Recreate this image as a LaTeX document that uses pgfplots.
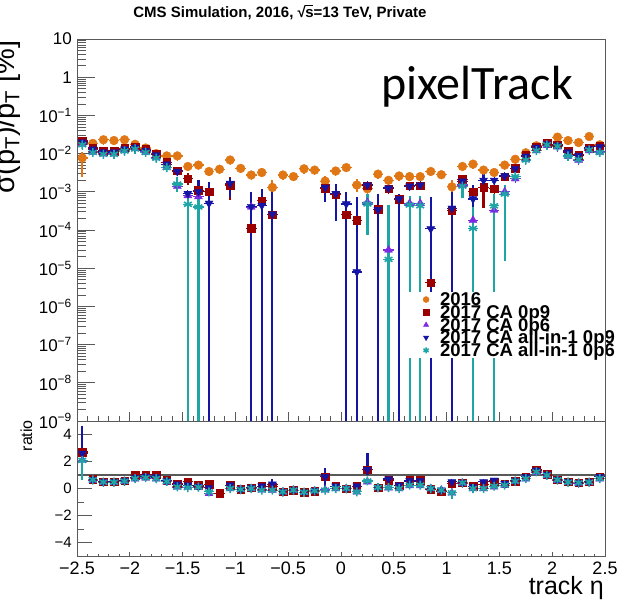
\documentclass[border=0pt]{standalone}
\usepackage{pgfplots}
\pgfplotsset{compat=1.18}
\usepackage{pgfplotstable}
\usepackage{fontspec}
\setmainfont{Liberation Sans}
\newfontfamily\carlito{Carlito}
\definecolor{c16}{RGB}{224,118,20}
\definecolor{c09}{RGB}{155,0,0}
\definecolor{c06}{RGB}{125,40,225}
\definecolor{a09}{RGB}{20,20,165}
\definecolor{a06}{RGB}{30,165,165}

\pgfplotstableread{
x A B C D E
-2.45 7.7e-3 2.2e-2 1.8e-2 2.0e-2 1.7e-2
-2.35 1.85e-2 1.4e-2 1.1e-2 1.3e-2 1.07e-2
-2.25 2.3e-2 1.17e-2 9.8e-3 1.1e-2 9.6e-3
-2.15 2.2e-2 1.17e-2 9.8e-3 1.1e-2 9.6e-3
-2.05 2.3e-2 1.37e-2 1.2e-2 1.3e-2 1.17e-2
-1.95 1.75e-2 1.5e-2 1.35e-2 1.45e-2 1.32e-2
-1.85 1.4e-2 1.3e-2 1.1e-2 1.2e-2 1.07e-2
-1.75 1.0e-2 1.0e-2 7.8e-3 9.3e-3 7.6e-3
-1.65 8.7e-3 5.9e-3 4.4e-3 5.3e-3 4.3e-3
-1.55 8.7e-3 3.6e-3 1.4e-3 3.4e-3 1.6e-3
-1.45 4.6e-3 2.2e-3 8e-4 9e-4 4.7e-4
-1.35 5.0e-3 1.1e-3 7.5e-4 1.0e-3 4.0e-4
-1.25 3.4e-3 1.0e-3 nan 5e-4 nan
-1.15 3.9e-3 nan nan nan nan
-1.05 6.8e-3 1.5e-3 nan 1.66e-3 nan
-0.95 4.1e-3 nan nan nan nan
-0.85 2.75e-3 1.1e-4 4e-4 4.1e-4 nan
-0.75 3.2e-3 5.8e-4 nan 4.4e-4 nan
-0.65 1.3e-3 2.5e-4 nan 2.6e-4 nan
-0.55 2.75e-3 nan nan nan nan
-0.45 2.5e-3 nan nan nan nan
-0.35 4.0e-3 nan nan nan nan
-0.25 3.7e-3 nan nan nan nan
-0.15 1.9e-3 1.25e-3 nan 1.3e-3 nan
-0.05 3.5e-3 8.3e-4 nan 9e-4 nan
0.05 4.3e-3 2.5e-4 nan 4.8e-4 nan
0.15 1.5e-3 1.8e-4 nan 8e-6 nan
0.25 1.2e-3 1.45e-3 5.3e-4 1.5e-3 4.8e-4
0.35 2.9e-3 3.5e-4 nan 3.4e-4 nan
0.45 2.0e-3 1.2e-3 3e-5 1.25e-3 1.7e-5
0.55 2.6e-3 6.5e-4 nan 6.5e-4 nan
0.65 2.5e-3 1.45e-3 5e-4 1.4e-3 4.5e-4
0.75 2.5e-3 1.45e-3 5e-4 1.5e-3 4.3e-4
0.85 3.4e-3 4.2e-6 nan 1.07e-4 nan
0.95 2.8e-3 nan nan nan nan
1.05 1.35e-3 3.3e-4 nan 3.7e-4 nan
1.15 4.6e-3 2.1e-3 1.5e-3 1.9e-3 1.4e-3
1.25 5.3e-3 1.0e-3 1.8e-4 6.5e-4 1.1e-4
1.35 3.7e-3 1.3e-3 nan 2.0e-3 nan
1.45 3.2e-3 1.2e-3 3.3e-4 2.0e-3 4.3e-4
1.55 5.0e-3 2.5e-3 1.0e-3 2.6e-3 8.7e-4
1.65 7.1e-3 4.1e-3 2.2e-3 4.0e-3 2.5e-3
1.75 1.05e-2 9e-3 7e-3 8.5e-3 6.8e-3
1.85 1.6e-2 1.5e-2 1.2e-2 1.45e-2 1.2e-2
1.95 1.85e-2 1.85e-2 1.65e-2 1.8e-2 1.7e-2
2.05 2.7e-2 1.7e-2 1.5e-2 1.65e-2 1.55e-2
2.15 2.2e-2 1.2e-2 8.5e-3 1.1e-2 8.7e-3
2.25 1.95e-2 9.2e-3 6.7e-3 8.8e-3 7e-3
2.35 2.8e-2 1.4e-2 1.2e-2 1.35e-2 1.25e-2
2.45 1.7e-2 1.6e-2 1.1e-2 1.5e-2 1.07e-2
}\topdata

\pgfplotstableread{
x B C D E
-2.45 2.7 2.1 2.6 2.08
-2.35 0.68 0.62 0.66 0.64
-2.25 0.5 0.45 0.49 0.47
-2.15 0.5 0.45 0.49 0.47
-2.05 0.58 0.52 0.56 0.54
-1.95 0.98 0.72 0.8 0.74
-1.85 1.03 0.78 0.9 0.8
-1.75 1.03 0.72 0.85 0.74
-1.65 0.62 0.5 0.56 0.52
-1.55 0.37 0.1 0.32 0.12
-1.45 0.49 0.1 0.25 0.07
-1.35 0.25 0.1 0.15 0.1
-1.25 0.32 -0.37 0.07 -0.25
-1.15 -0.37 nan nan nan
-1.05 0.25 0.0 0.25 0.0
-0.95 -0.07 -0.07 -0.07 -0.07
-0.85 0.07 0.0 0.07 0.0
-0.75 0.17 -0.1 0.17 -0.12
-0.65 0.12 -0.12 0.32 -0.12
-0.55 -0.25 -0.25 -0.25 -0.25
-0.45 -0.12 -0.12 -0.12 -0.12
-0.35 -0.28 -0.28 -0.28 -0.28
-0.25 -0.18 -0.18 -0.18 -0.18
-0.15 0.86 -0.1 0.86 -0.12
-0.05 0.17 0.0 0.17 0.0
0.05 0.0 0.0 0.0 0.0
0.15 0.17 -0.25 0.17 -0.25
0.25 1.4 0.5 1.4 0.56
0.35 0.07 0.07 0.07 0.07
0.45 0.62 0.05 0.7 0.07
0.55 0.2 0.0 0.25 0.0
0.65 0.61 0.22 0.56 0.25
0.75 0.61 0.22 0.56 0.25
0.85 -0.07 0.0 0.0 0.0
0.95 -0.25 -0.12 -0.12 -0.12
1.05 0.37 -0.32 0.49 -0.32
1.15 0.42 0.4 0.42 0.42
1.25 0.17 0.0 0.12 0.0
1.35 0.32 0.0 0.49 0.0
1.45 0.49 0.12 0.61 0.17
1.55 0.37 0.25 0.37 0.25
1.65 0.56 0.52 0.56 0.54
1.75 0.86 0.72 0.86 0.74
1.85 1.4 1.2 1.35 1.23
1.95 1.05 0.95 1.05 0.98
2.05 0.66 0.62 0.66 0.64
2.15 0.49 0.45 0.49 0.47
2.25 0.42 0.4 0.42 0.42
2.35 0.49 0.45 0.49 0.47
2.45 0.86 0.72 0.86 0.74
}\ratiodata

\pgfplotsset{
  cmsframe/.style={scale only axis, xmin=-2.5, xmax=2.5,
    axis line style={black!65, line width=0.9pt},
    tick style={black!65, line width=0.7pt}, tick align=inside},
  topmk/.style={only marks, color=#1, mark options={fill=#1, draw=#1},
    error bars/x dir=both, error bars/x fixed=0.05,
    error bars/y dir=both, error bars/y fixed relative=0.25,
    error bars/error mark=none, error bars/error bar style={line width=1.2pt}},
  ratmk/.style={only marks, color=#1, mark options={fill=#1, draw=#1},
    error bars/x dir=both, error bars/x fixed=0.05,
    error bars/y dir=both, error bars/y fixed=0.18,
    error bars/error mark=none, error bars/error bar style={line width=1.2pt}},
  seg/.style={forget plot, color=#1, line width=2.2pt, unbounded coords=jump, mark=none},
  mA/.style={mark=*, mark size=4.4pt},
  mB/.style={mark=square*, mark size=3.8pt},
  mC/.style={mark=triangle*, mark size=4.6pt},
  mD/.style={mark=triangle*, mark size=4.6pt, every mark/.append style={rotate=180}},
  mE/.style={mark=asterisk, mark size=4.5pt, every mark/.append style={line width=1.6pt}},
}

\begin{document}
\begin{tikzpicture}[x=1pt,y=1pt]
\useasboundingbox (0,0) rectangle (621,602);

% ---------- top panel ----------
\begin{axis}[cmsframe, at={(77pt,181pt)}, anchor=south west, width=528pt, height=382pt,
  ymode=log, ymin=1e-9, ymax=10,
  ytick={1e-9,1e-8,1e-7,1e-6,1e-5,1e-4,1e-3,1e-2,1e-1,1,10},
  yticklabels={10\textsuperscript{−9},10\textsuperscript{−8},10\textsuperscript{−7},10\textsuperscript{−6},10\textsuperscript{−5},10\textsuperscript{−4},10\textsuperscript{−3},10\textsuperscript{−2},10\textsuperscript{−1},1,10},
  minor ytick={2e-9,3e-9,4e-9,5e-9,6e-9,7e-9,8e-9,9e-9,
    2e-8,3e-8,4e-8,5e-8,6e-8,7e-8,8e-8,9e-8,
    2e-7,3e-7,4e-7,5e-7,6e-7,7e-7,8e-7,9e-7,
    2e-6,3e-6,4e-6,5e-6,6e-6,7e-6,8e-6,9e-6,
    2e-5,3e-5,4e-5,5e-5,6e-5,7e-5,8e-5,9e-5,
    2e-4,3e-4,4e-4,5e-4,6e-4,7e-4,8e-4,9e-4,
    2e-3,3e-3,4e-3,5e-3,6e-3,7e-3,8e-3,9e-3,
    2e-2,3e-2,4e-2,5e-2,6e-2,7e-2,8e-2,9e-2,
    0.2,0.3,0.4,0.5,0.6,0.7,0.8,0.9,2,3,4,5,6,7,8,9},
  ytick pos=left, xtick=\empty,
  major tick length=18pt, minor tick length=9pt,
  yticklabel style={font=\fontsize{17}{17}\selectfont, inner xsep=0pt, xshift=-5pt},
  legend style={at={(0.621,0.3377)}, anchor=north west, fill=white, draw=none,
    inner xsep=18pt, inner ysep=1pt, row sep=0pt, column sep=11pt,
    font=\fontsize{18.5}{18.5}\selectfont\bfseries,
    nodes={inner sep=0pt, text height=12.7pt, text depth=0pt}},
  legend cell align=left,
  legend image post style={mark size=3pt},
]
\addplot[seg=c16] coordinates {(-2.45,2.5e-3)(-2.45,1.1e-2)(-2.45,nan)
  (-0.65,8.5e-4)(-0.65,2e-3)(-0.65,nan)(-0.15,1.3e-3)(-0.15,2.6e-3)(-0.15,nan)
  (0.15,1e-3)(0.15,2.1e-3)(0.15,nan)(1.05,9e-4)(1.05,2e-3)};
\addplot[topmk=c16, mA] table[x=x, y=A] {\topdata};
\addlegendentry{2016}
\addplot[seg=c09] coordinates {(-2.45,1.7e-2)(-2.45,2.8e-2)(-2.45,nan)
  (-1.45,1.5e-3)(-1.45,3.2e-3)(-1.45,nan)(-1.05,6e-4)(-1.05,2.5e-3)(-1.05,nan)
  (-0.85,7e-5)(-0.85,1.6e-4)(-0.85,nan)(-0.65,1.5e-4)(-0.65,4e-4)(-0.65,nan)
  (0.85,2.5e-6)(0.85,7e-6)(0.85,nan)(1.35,3.7e-4)(1.35,2e-3)};
\addplot[topmk=c09, mB] table[x=x, y=B] {\topdata};
\addlegendentry{2017 CA 0p9}
\addplot[topmk=c06, mC] table[x=x, y=C] {\topdata};
\addlegendentry{2017 CA 0p6}
\addplot[seg=a09] coordinates {(-1.35,6e-4)(-1.35,2e-3)(-1.35,nan)
  (-1.25,1e-12)(-1.25,1.8e-3)(-1.25,nan)(-1.05,7.4e-4)(-1.05,2.3e-3)(-1.05,nan)
  (-0.85,1e-12)(-0.85,1e-3)(-0.85,nan)(-0.75,1e-12)(-0.75,1.2e-3)(-0.75,nan)
  (-0.65,1e-12)(-0.65,1.7e-3)(-0.65,nan)(-0.15,5.5e-4)(-0.15,2e-3)(-0.15,nan)
  (-0.05,1.7e-4)(-0.05,1.6e-3)(-0.05,nan)(0.05,1e-12)(0.05,1e-3)(0.05,nan)
  (0.15,1e-12)(0.15,7.4e-4)(0.15,nan)(0.35,1e-12)(0.35,9e-4)(0.35,nan)
  (0.55,1e-12)(0.55,9e-4)(0.55,nan)(0.85,1e-12)(0.85,7.4e-4)(0.85,nan)
  (1.05,1e-12)(1.05,1e-3)(1.05,nan)(1.25,3e-4)(1.25,1.5e-3)(1.25,nan)
  (1.35,1.2e-3)(1.35,3.5e-3)};
\addplot[topmk=a09, mD] table[x=x, y=D] {\topdata};
\addlegendentry{2017 CA all-in-1 0p9}
\addplot[seg=a06] coordinates {(-1.55,1e-3)(-1.55,2.5e-3)(-1.55,nan)
  (-1.45,1e-12)(-1.45,8e-4)(-1.45,nan)(-1.35,1e-12)(-1.35,7e-4)(-1.35,nan)
  (0.25,7.4e-5)(0.25,9e-4)(0.25,nan)(0.45,1e-12)(0.45,4.5e-4)(0.45,nan)
  (0.65,1e-12)(0.65,8e-4)(0.65,nan)(0.75,1e-12)(0.75,8e-4)(0.75,nan)
  (1.15,6.8e-4)(1.15,1.9e-3)(1.15,nan)(1.25,1e-12)(1.25,4e-4)(1.25,nan)
  (1.45,1e-12)(1.45,9e-4)(1.45,nan)(1.55,1.5e-5)(1.55,1.5e-3)};
\addplot[topmk=a06, mE] table[x=x, y=E] {\topdata};
\addlegendentry{2017 CA all-in-1 0p6}
\end{axis}
% x ticks of top panel
\begin{axis}[cmsframe, at={(77pt,181pt)}, anchor=south west, width=528pt, height=382pt,
  ymin=0, ymax=1, ytick=\empty, xtick={-2.5,-2,...,2.5}, minor x tick num=4,
  xticklabels={}, xtick pos=lower, major tick length=9pt, minor tick length=4.5pt]
\end{axis}

% ---------- ratio panel ----------
\begin{axis}[cmsframe, at={(77pt,46pt)}, anchor=south west, width=528pt, height=135pt,
  ymin=-5, ymax=5, ytick={-4,-2,0,2,4}, yticklabels={−4,−2,0,2,4},
  minor ytick={-3,-1,1,3}, ytick pos=left, xtick=\empty,
  major tick length=15pt, minor tick length=7pt,
  yticklabel style={font=\fontsize{15}{15}\selectfont, inner xsep=0pt, xshift=-5pt}]
\addplot[forget plot, black!65, line width=1.8pt] coordinates {(-2.5,1) (2.5,1)};
\addplot[seg=c09] coordinates {(-2.45,1.5)(-2.45,4.5)};
\addplot[ratmk=c09, mB] table[x=x, y=B] {\ratiodata};
\addplot[ratmk=c06, mC] table[x=x, y=C] {\ratiodata};
\addplot[seg=a09] coordinates {(-2.45,0.8)(-2.45,4.6)(-2.45,nan)
  (0.25,1.0)(0.25,2.6)(0.25,nan)(-0.15,0.0)(-0.15,1.5)(-0.15,nan)(-0.65,0.0)(-0.65,0.7)};
\addplot[ratmk=a09, mD] table[x=x, y=D] {\ratiodata};
\addplot[seg=a06] coordinates {(-2.45,0.6)(-2.45,3.0)(-2.45,nan)(1.05,-0.8)(1.05,0.0)};
\addplot[ratmk=a06, mE] table[x=x, y=E] {\ratiodata};
\end{axis}
\begin{axis}[cmsframe, at={(77pt,46pt)}, anchor=south west, width=528pt, height=135pt,
  ymin=0, ymax=1, ytick=\empty, xtick={-2.5,-2,...,2.5}, minor x tick num=4,
  xticklabels={−2.5,−2,−1.5,−1,−0.5,0,0.5,1,1.5,2,2.5},
  xtick pos=lower, major tick length=4pt, minor tick length=2pt,
  xticklabel style={font=\fontsize{18}{18}\selectfont, anchor=north, inner ysep=0pt, yshift=-6pt}]
\end{axis}

% ---------- texts ----------
\node[anchor=base, font=\bfseries\fontsize{15}{15}\selectfont, inner sep=0] at (280,584.5)
  {CMS Simulation, 2016, \mbox{√\kern-0.6pt\makebox[0pt][l]{\rule[11.2pt]{7.5pt}{0.9pt}}s}=13 TeV, Private};
\node[anchor=base, font=\carlito\fontsize{48}{48}\selectfont, inner sep=0] at (477,502) {pixelTrack};
\node[anchor=base east, font=\fontsize{25}{25}\selectfont, inner sep=0] at (604,7) {track η};
\node[rotate=90, anchor=base east, font=\fontsize{16}{16}\selectfont, inner sep=0] at (32,182) {ratio};
\node[rotate=90, anchor=base east, font=\fontsize{29}{29}\selectfont, inner sep=0] at (14,562)
  {σ(p\textsubscript{T})/p\textsubscript{T} [\%]};
\end{tikzpicture}
\end{document}
